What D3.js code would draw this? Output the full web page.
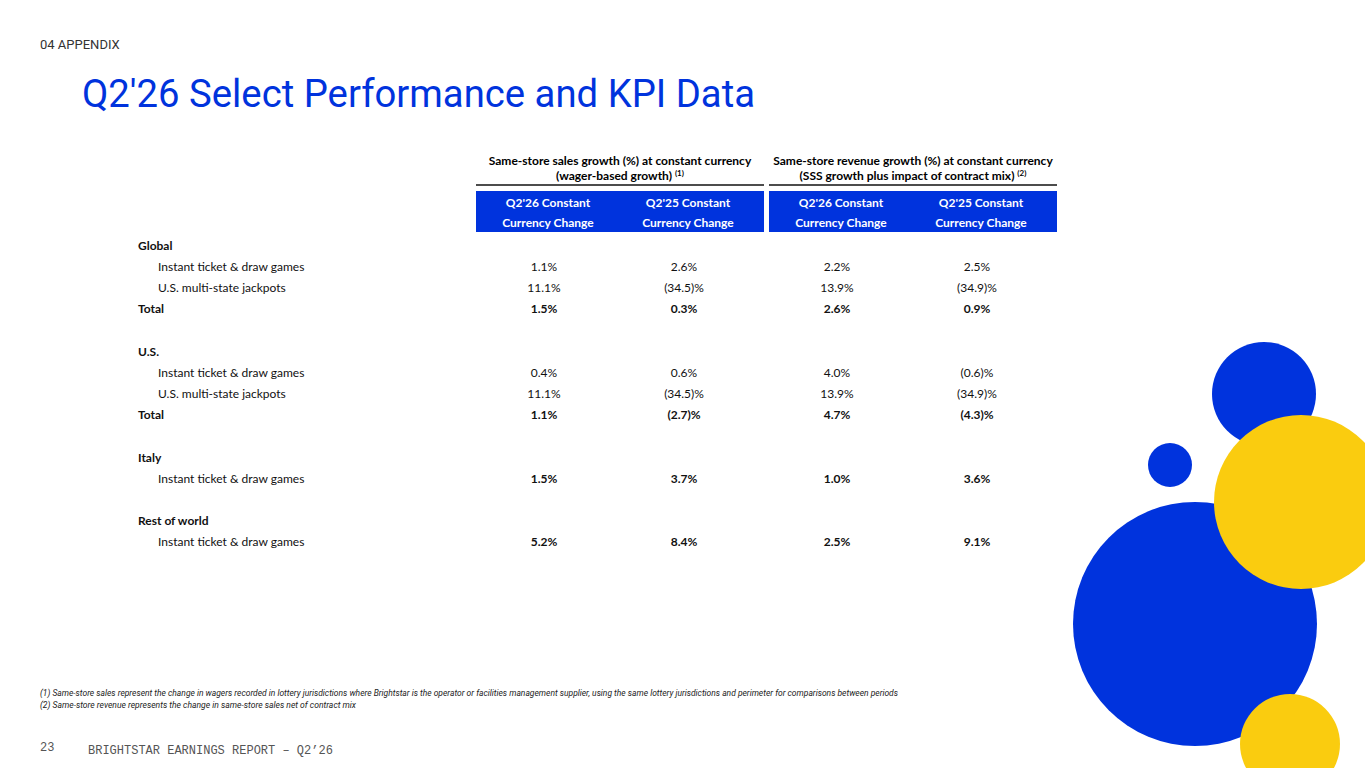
<!DOCTYPE html>
<html>
<head>
<meta charset="utf-8">
<script src="https://cdn.jsdelivr.net/npm/d3@7"></script>
<style>
  html, body { margin: 0; padding: 0; background: #fff; }
  svg { display: block; }
</style>
</head>
<body>
<div id="slide"></div>
<script>
// row labels (null = spacer row)
var rowLabels = [
  {label: "Global", kind: "section"},
  {label: "Instant ticket & draw games", kind: "item"},
  {label: "U.S. multi-state jackpots", kind: "item"},
  {label: "Total", kind: "total"},
  null,
  {label: "U.S.", kind: "section"},
  {label: "Instant ticket & draw games", kind: "item"},
  {label: "U.S. multi-state jackpots", kind: "item"},
  {label: "Total", kind: "total"},
  null,
  {label: "Italy", kind: "section"},
  {label: "Instant ticket & draw games", kind: "boldval"},
  null,
  {label: "Rest of world", kind: "section"},
  {label: "Instant ticket & draw games", kind: "boldval"}
];

var groups = [
  {key: "sss", line1: "Same-store sales growth (%) at constant currency", line2: "(wager-based growth)", note: "(1)"},
  {key: "rev", line1: "Same-store revenue growth (%) at constant currency", line2: "(SSS growth plus impact of contract mix)", note: "(2)"}
];
var columns = [
  {group: "sss", key: "sss26", head: ["Q2'26 Constant", "Currency Change"]},
  {group: "sss", key: "sss25", head: ["Q2'25 Constant", "Currency Change"]},
  {group: "rev", key: "rev26", head: ["Q2'26 Constant", "Currency Change"]},
  {group: "rev", key: "rev25", head: ["Q2'25 Constant", "Currency Change"]}
];

// values in the order of the non-section rows above
var sss26 = [1.1, 11.1, 1.5, 0.4, 11.1, 1.1, 1.5, 5.2];
var sss25 = [2.6, -34.5, 0.3, 0.6, -34.5, -2.7, 3.7, 8.4];
var rev26 = [2.2, 13.9, 2.6, 4.0, 13.9, 4.7, 1.0, 2.5];
var rev25 = [2.5, -34.9, 0.9, -0.6, -34.9, -4.3, 3.6, 9.1];
var values = {sss26: sss26, sss25: sss25, rev26: rev26, rev25: rev25};

var footnotes = [
  "(1) Same-store sales represent the change in wagers recorded in lottery jurisdictions where Brightstar is the operator or facilities management supplier, using the same lottery jurisdictions and perimeter for comparisons between periods",
  "(2) Same-store revenue represents the change in same-store sales net of contract mix"
];

var blue = "#0033dd", yellow = "#facc0f";
var W = 1365, H = 768;
var tableFont = "Lato, 'Open Sans', sans-serif";

var svg = d3.select("#slide").append("svg")
  .attr("width", W).attr("height", H);

// decorative circles
var circles = [
  {cx: 1264, cy: 394, r: 52, c: blue},
  {cx: 1170, cy: 465, r: 22, c: blue},
  {cx: 1195, cy: 624, r: 122, c: blue},
  {cx: 1301, cy: 502, r: 87, c: yellow},
  {cx: 1290, cy: 744, r: 50, c: yellow}
];
svg.append("g").selectAll("circle").data(circles).enter().append("circle")
  .attr("cx", function(d) { return d.cx; })
  .attr("cy", function(d) { return d.cy; })
  .attr("r", function(d) { return d.r; })
  .attr("fill", function(d) { return d.c; });

// headings
svg.append("text").attr("x", 40).attr("y", 49)
  .attr("font-family", "Roboto, sans-serif").attr("font-size", 13)
  .attr("fill", "#333").text("04 APPENDIX");

svg.append("text").attr("x", 82).attr("y", 107)
  .attr("font-family", "Roboto, sans-serif").attr("font-size", 38)
  .attr("fill", blue).attr("textLength", 673).attr("lengthAdjust", "spacingAndGlyphs")
  .text("Q2'26 Select Performance and KPI Data");

// scales
var xGroup = d3.scaleBand().domain(groups.map(function(d) { return d.key; }))
  .range([476, 1057]).paddingInner(0.017).paddingOuter(0);
var xCol = d3.scaleBand().domain([0, 1]).range([0, xGroup.bandwidth()]);
function colX(c) {
  var idx = columns.filter(function(d) { return d.group === c.group; }).indexOf(c);
  return xGroup(c.group) + xCol(idx) + xCol.bandwidth() / 2 - 4 - idx * 4;
}
var y = d3.scaleBand().domain(d3.range(rowLabels.length)).range([235, 553]);

// group headers
var gh = svg.append("g").selectAll("g").data(groups).enter().append("g");
gh.append("text")
  .attr("x", function(d) { return xGroup(d.key) + xGroup.bandwidth() / 2; })
  .attr("y", 165).attr("text-anchor", "middle")
  .attr("font-family", tableFont).attr("font-size", 12).attr("font-weight", "bold")
  .text(function(d) { return d.line1; });
var l2 = gh.append("text")
  .attr("x", function(d) { return xGroup(d.key) + xGroup.bandwidth() / 2; })
  .attr("y", 180).attr("text-anchor", "middle")
  .attr("font-family", tableFont).attr("font-size", 12).attr("font-weight", "bold");
l2.append("tspan").text(function(d) { return d.line2 + " "; });
l2.append("tspan").attr("font-size", 8).attr("dy", -4).text(function(d) { return d.note; });
gh.append("line")
  .attr("x1", function(d) { return xGroup(d.key); })
  .attr("x2", function(d) { return xGroup(d.key) + xGroup.bandwidth(); })
  .attr("y1", 185).attr("y2", 185)
  .attr("stroke", "#111").attr("stroke-width", 1.5);
gh.append("rect")
  .attr("x", function(d) { return xGroup(d.key); })
  .attr("width", xGroup.bandwidth())
  .attr("y", 191).attr("height", 41)
  .attr("fill", blue);

// column headers
var ch = svg.append("g").selectAll("text").data(columns).enter().append("text")
  .attr("text-anchor", "middle")
  .attr("font-family", tableFont).attr("font-size", 12).attr("font-weight", "bold")
  .attr("fill", "#fff");
ch.append("tspan").attr("x", function(d) { return colX(d) + 4; }).attr("y", 207)
  .text(function(d) { return d.head[0]; });
ch.append("tspan").attr("x", function(d) { return colX(d) + 4; }).attr("y", 227)
  .text(function(d) { return d.head[1]; });

// rows
var rows = [];
var vi = 0;
rowLabels.forEach(function(r, i) {
  if (!r) return;
  var row = {i: i, label: r.label, kind: r.kind, v: null};
  if (r.kind !== "section") { row.v = vi; vi++; }
  rows.push(row);
});

var fmt = function(v) {
  return v < 0 ? "(" + Math.abs(v).toFixed(1) + ")%" : v.toFixed(1) + "%";
};

var rg = svg.append("g").attr("font-family", tableFont).attr("font-size", 12).attr("fill", "#111");
rg.selectAll("text.lbl").data(rows).enter().append("text")
  .attr("class", "lbl")
  .attr("x", function(d) { return d.kind === "section" || d.kind === "total" ? 138 : 158; })
  .attr("y", function(d) { return y(d.i) + y.bandwidth() / 2 + 4; })
  .attr("font-weight", function(d) { return d.kind === "section" || d.kind === "total" ? "bold" : "normal"; })
  .text(function(d) { return d.label; });

var cells = [];
rows.forEach(function(r) {
  if (r.v === null) return;
  columns.forEach(function(c) {
    cells.push({row: r, col: c, value: values[c.key][r.v]});
  });
});
rg.selectAll("text.val").data(cells).enter().append("text")
  .attr("class", "val").attr("text-anchor", "middle")
  .attr("x", function(d) { return colX(d.col); })
  .attr("y", function(d) { return y(d.row.i) + y.bandwidth() / 2 + 4; })
  .attr("font-weight", function(d) { return d.row.kind === "item" ? "normal" : "bold"; })
  .text(function(d) { return fmt(d.value); });

// footnotes
svg.append("g").selectAll("text").data(footnotes).enter().append("text")
  .attr("x", 40).attr("y", function(d, i) { return 696 + i * 12; })
  .attr("font-family", "Roboto, sans-serif").attr("font-size", 8.5)
  .attr("font-style", "italic").attr("fill", "#222")
  .attr("textLength", function(d, i) { return i === 0 ? 858 : 316; })
  .attr("lengthAdjust", "spacingAndGlyphs")
  .text(function(d) { return d; });

// footer
svg.append("text").attr("x", 40).attr("y", 751)
  .attr("font-family", "'Liberation Mono', monospace").attr("font-size", 12)
  .attr("fill", "#555").text("23");
svg.append("text").attr("x", 88).attr("y", 754)
  .attr("font-family", "'Liberation Mono', monospace").attr("font-size", 12)
  .attr("fill", "#555").text("BRIGHTSTAR EARNINGS REPORT \u2013 Q2\u201926");
</script>
</body>
</html>
